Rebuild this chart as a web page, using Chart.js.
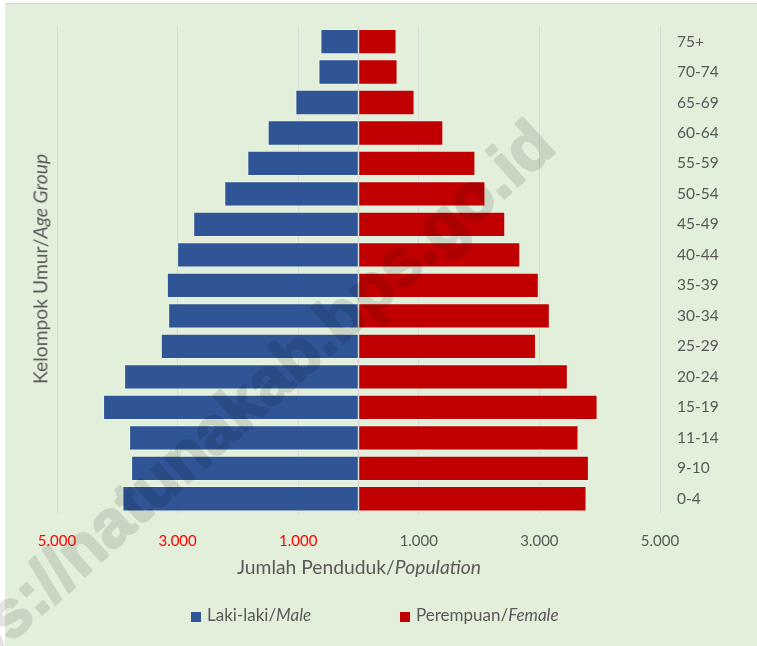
<!DOCTYPE html>
<html>
<head>
<meta charset="utf-8">
<script src="https://cdn.jsdelivr.net/npm/chart.js@4.4.1/dist/chart.umd.min.js"></script>
<style>
  body { margin: 0; background: #fff; }
  #wrap { position: relative; width: 757px; height: 646px; overflow: hidden; }
  #frame { position: absolute; left: 5px; top: 3px; right: 0; bottom: 0; background: #E2EFDA; border-top: 1px solid #D6D6D6; }
  #pyramid { position: absolute; left: 0; top: 0; }
  .lbl { position: absolute; font-family: Lato, sans-serif; color: #595959; white-space: nowrap; line-height: 1; }
  .ttl { font-size: 19.3px; }
  .leg { font-size: 17px; }
  .sw { display: inline-block; width: 10px; height: 10px; margin-right: 6px; vertical-align: -1px; }
</style>
</head>
<body>
<div id="wrap">
  <div id="frame"></div>
  <canvas id="pyramid" width="757" height="646"></canvas>
  <div class="lbl ttl" style="left:40px;top:269px;transform:translate(-50%,-50%) rotate(-90deg);">Kelompok Umur/<i>Age Group</i></div>
  <div class="lbl ttl" style="left:359px;top:567px;transform:translate(-50%,-50%);">Jumlah Penduduk/<i>Population</i></div>
  <div class="lbl leg" style="left:191px;top:606px;"><span class="sw" style="background:#2F5597"></span>Laki-laki/<i>Male</i></div>
  <div class="lbl leg" style="left:400px;top:606px;"><span class="sw" style="background:#C00000"></span>Perempuan/<i>Female</i></div>
</div>
<script>
const ageGroups = ['75+', '70-74', '65-69', '60-64', '55-59', '50-54', '45-49', '40-44', '35-39', '30-34', '25-29', '20-24', '15-19', '11-14', '9-10', '0-4'];
const male = [631, 664, 1047, 1506, 1844, 2226, 2741, 3007, 3178, 3156, 3278, 3887, 4236, 3804, 3771, 3915];
const female = [631, 648, 930, 1407, 1939, 2105, 2434, 2683, 2990, 3173, 2945, 3472, 3965, 3649, 3821, 3782];
const xMin = -5000;
const xMax = 5000;
const xStep = 2000;

function thousands(v) { return String(Math.abs(v)).replace(/\B(?=(\d{3})+(?!\d))/g, '.'); }

// garis tengah + watermark
const extras = {
  id: 'extras',
  afterDatasetsDraw(chart) {
    const { ctx, chartArea, scales } = chart;
    const x0 = scales.x.getPixelForValue(0);
    ctx.save();
    ctx.strokeStyle = '#D9D9D9';
    ctx.lineWidth = 1.5;
    ctx.beginPath();
    ctx.moveTo(x0, chartArea.top);
    ctx.lineTo(x0, chartArea.bottom);
    ctx.stroke();
    ctx.restore();
  },
  afterDraw(chart) {
    const off = document.createElement('canvas');
    off.width = chart.width;
    off.height = chart.height;
    const o = off.getContext('2d');
    o.translate(558, 150);
    o.rotate(-42 * Math.PI / 180);
    o.font = 'bold 66px "Liberation Sans", Arial, sans-serif';
    o.fillStyle = '#000';
    o.strokeStyle = '#000';
    o.lineWidth = 2.5;
    o.lineJoin = 'round';
    o.textAlign = 'right';
    o.fillText('https://natunakab.bps.go.id', 0, 0);
    o.strokeText('https://natunakab.bps.go.id', 0, 0);
    const ctx = chart.ctx;
    ctx.save();
    ctx.globalAlpha = 0.11;
    ctx.drawImage(off, 0, 0, chart.width, chart.height);
    ctx.restore();
  }
};

new Chart(document.getElementById('pyramid'), {
  type: 'bar',
  data: {
    labels: ageGroups,
    datasets: [
      { label: 'Laki-laki/Male', data: male.map((v) => -v), backgroundColor: '#2F5597', borderColor: 'rgba(255,255,255,0.35)', borderWidth: 1, barPercentage: 0.83, categoryPercentage: 1 },
      { label: 'Perempuan/Female', data: female, backgroundColor: '#C00000', borderColor: 'rgba(255,255,255,0.35)', borderWidth: 1, barPercentage: 0.83, categoryPercentage: 1 },
    ],
  },
  options: {
    indexAxis: 'y',
    responsive: false,
    animation: false,
    layout: { padding: { left: 57, top: 25, right: 0, bottom: 0 } },
    plugins: { legend: { display: false }, tooltip: { enabled: false } },
    scales: {
      x: {
        stacked: true,
        min: xMin,
        max: xMax,
        border: { display: false },
        grid: { color: '#D9D9D9', lineWidth: 1, drawTicks: false },
        ticks: {
          stepSize: xStep,
          autoSkip: false,
          maxRotation: 0,
          padding: 18,
          color: (c) => (c.tick.value < 0 ? '#FF0000' : '#595959'),
          font: { family: 'Lato', size: 15 },
          callback: (v) => thousands(v),
        },
        afterFit: (s) => { s.height = 132; },
      },
      y: {
        stacked: true,
        position: 'right',
        border: { display: false },
        grid: { display: false, drawTicks: false },
        ticks: { color: '#595959', padding: 17, font: { family: 'Lato', size: 15.5 } },
        afterFit: (s) => { s.width = 97; },
      },
    },
  },
  plugins: [extras],
});
</script>
</body>
</html>
